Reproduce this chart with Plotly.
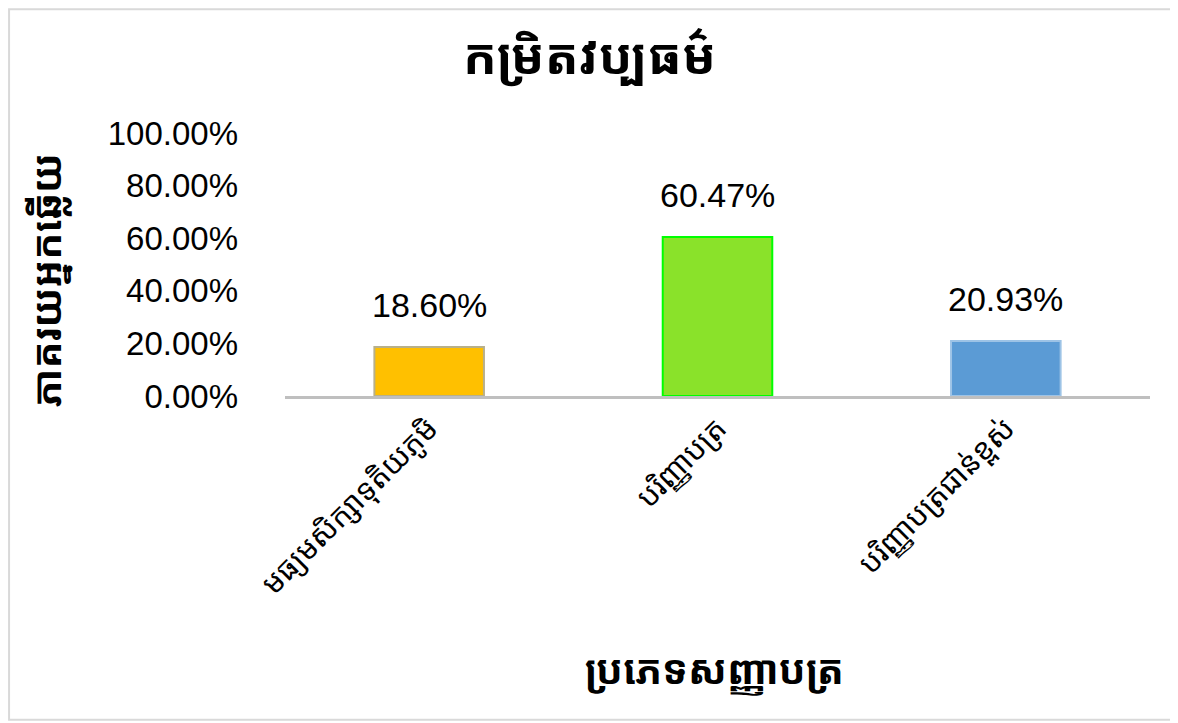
import plotly.graph_objects as go

categories = ["មធ្យមសិក្សាទុតិយភូមិ", "បរិញ្ញាបត្រ", "បរិញ្ញាបត្រជាន់ខ្ពស់"]
values = [18.60, 60.47, 20.93]
bar_colors = ["#FFC000", "#8AE22A", "#5B9BD5"]
line_colors = ["#B8B08A", "#00FF00", "#9DC3E6"]
title_text = "កម្រិតវប្បធម៌"
x_title = "ប្រភេទសញ្ញាបត្រ"
y_title = "ភាគរយអ្នកឆ្លើយ"
y_ticks = [0, 20, 40, 60, 80, 100]
y_ticktext = [f"{t:.2f}%" for t in y_ticks]

KH = "Khmer OS Muol Light, Noto Sans Khmer, Khmer OS, Noto Sans, sans-serif"
NUM = "Liberation Sans, Arial, Helvetica, sans-serif"

fig = go.Figure()
fig.add_trace(go.Bar(
    x=categories, y=values,
    marker=dict(color=bar_colors, line=dict(color=line_colors, width=2)),
    width=0.38,
    hoverinfo="skip",
))

for c, v in zip(categories, values):
    fig.add_annotation(x=c, y=v, text=f"{v:.2f}%", showarrow=False,
                       yanchor="bottom", yshift=21,
                       font=dict(family=NUM, size=34, color="#000000"))

fig.add_annotation(xref="paper", yref="paper", x=0.3526, y=1.0, yshift=78,
                   text=f"<b>{title_text}</b>", showarrow=False,
                   font=dict(family=KH, size=50, color="#000000"), yanchor="middle")
fig.add_annotation(xref="paper", yref="paper", x=0.496, y=0, yshift=-272,
                   text=f"<b>{x_title}</b>", showarrow=False,
                   font=dict(family=KH, size=40, color="#000000"), yanchor="middle")
fig.add_annotation(xref="paper", yref="paper", x=0, xshift=-240, y=0.441,
                   text=f"<b>{y_title}</b>", showarrow=False, textangle=-90,
                   font=dict(family=KH, size=40, color="#000000"),
                   xanchor="center", yanchor="middle")

# outer chart border
fig.add_shape(type="rect", xref="paper", yref="paper",
              x0=-0.319, x1=1.029, y0=-1.231, y1=1.471,
              line=dict(color="#D9D9D9", width=2), fillcolor="rgba(0,0,0,0)", layer="below")

fig.update_layout(
    width=1178, height=723,
    margin=dict(l=277, r=36, t=125, b=335),
    paper_bgcolor="white", plot_bgcolor="white",
    showlegend=False,
    bargap=0.62,
    xaxis=dict(showgrid=False, showline=True, linecolor="#BFBFBF", linewidth=3,
               ticks="", tickangle=-45,
               tickfont=dict(family=KH, size=30, color="#000000")),
    yaxis=dict(range=[0, 100], tickvals=y_ticks, ticktext=y_ticktext,
               showgrid=False, showline=False, zeroline=False, ticks="",
               ticklabelstandoff=46,
               tickfont=dict(family=NUM, size=33, color="#000000")),
)

fig.write_html("out.html")
